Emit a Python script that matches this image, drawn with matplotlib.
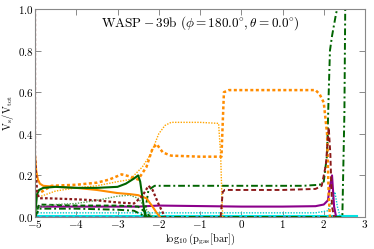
import matplotlib
matplotlib.use("Agg")
import matplotlib.pyplot as plt

plt.rcParams['mathtext.fontset'] = 'cm'
plt.rcParams['font.family'] = 'DejaVu Serif'

# --- data ---
orange_solid_x = [-5.0, -4.97, -4.93, -4.88, -4.8, -4.5, -4.0, -3.5, -3.0, -2.7, -2.5, -2.3, -2.15, -2.05, -1.97]
orange_solid_y = [0.30, 0.22, 0.18, 0.16, 0.15, 0.145, 0.14, 0.13, 0.115, 0.11, 0.105, 0.09, 0.05, 0.02, 0.0]

orange_dot_x = [-4.85, -4.6, -4.0, -3.5, -3.2, -2.9, -2.7, -2.5, -2.3, -2.15, -2.05, -1.9, -1.7, -1.0, -0.48, -0.45, -0.42, -0.3, 1.0, 1.8, 1.9, 2.0, 2.08, 2.12, 2.15]
orange_dot_y = [0.12, 0.15, 0.155, 0.165, 0.18, 0.205, 0.195, 0.18, 0.24, 0.33, 0.35, 0.31, 0.295, 0.29, 0.29, 0.45, 0.60, 0.61, 0.61, 0.61, 0.59, 0.55, 0.40, 0.10, 0.0]

lorange_x = [-4.85, -4.5, -4.0, -3.5, -3.0, -2.7, -2.4, -2.2, -2.0, -1.85, -1.7, -1.0, -0.55, -0.5, -0.47, -0.45]
lorange_y = [0.10, 0.125, 0.14, 0.15, 0.17, 0.18, 0.24, 0.30, 0.40, 0.44, 0.455, 0.455, 0.45, 0.30, 0.10, 0.0]

green_solid_x = [-5.0, -4.95, -4.9, -4.8, -4.5, -4.0, -3.5, -3.0, -2.8, -2.6, -2.5, -2.45, -2.4, -2.35, -2.3]
green_solid_y = [0.0, 0.11, 0.13, 0.14, 0.145, 0.14, 0.14, 0.145, 0.16, 0.185, 0.20, 0.17, 0.10, 0.03, 0.0]

green_dd1_x = [-2.35, -2.25, -2.1, -1.5, 0.0, 1.5, 1.9, 2.0, 2.08, 2.12, 2.15, 2.2, 2.3, 2.33]
green_dd1_y = [0.0, 0.13, 0.15, 0.15, 0.15, 0.15, 0.155, 0.17, 0.30, 0.60, 0.80, 0.87, 0.98, 1.0]

green_dd2_x = [-5.0, -4.9, -4.0, -3.0, -2.6, -2.4, -2.3, 2.45, 2.5, 2.52, 2.55]
green_dd2_y = [0.0, 0.04, 0.04, 0.035, 0.03, 0.01, 0.0, 0.0, 0.5, 1.0, 1.0]

green_dot_x = [-4.9, -4.5, -4.0, -3.5, -3.0, -2.7, -2.5, -2.35, -2.2, -2.1]
green_dot_y = [0.05, 0.06, 0.065, 0.08, 0.10, 0.105, 0.09, 0.05, 0.01, 0.0]

green_dash_x = [-5.0, -4.9, -4.0, -3.0, -2.5, -2.3, -2.2]
green_dash_y = [0.0, 0.06, 0.055, 0.055, 0.05, 0.02, 0.0]

brown_dot_x = [-5.0, -5.0, -4.95, -4.9, -4.7, -4.0, -3.5, -3.0, -2.6, -2.4, -2.25, -2.15, -2.0, -1.85]
brown_dot_y = [1.0, 0.30, 0.12, 0.09, 0.09, 0.085, 0.08, 0.07, 0.065, 0.10, 0.15, 0.13, 0.06, 0.0]

brown_dash_x = [-0.5, -0.45, -0.4, 0.0, 1.0, 1.8, 1.95, 2.05, 2.12, 2.16, 2.2, 2.25]
brown_dash_y = [0.0, 0.12, 0.13, 0.13, 0.13, 0.135, 0.15, 0.25, 0.43, 0.30, 0.05, 0.0]

purple_x = [-5.0, -4.0, -3.0, -2.5, -2.0, 0.0, 1.0, 1.8, 2.0, 2.1, 2.15, 2.2, 2.25, 2.3]
purple_y = [0.05, 0.05, 0.05, 0.05, 0.055, 0.05, 0.05, 0.052, 0.06, 0.08, 0.15, 0.20, 0.05, 0.0]

cyan_dot_x = [-5.0, -3.0, 0.0, 1.8, 2.1, 2.2, 2.27, 2.33, 2.4]
cyan_dot_y = [0.02, 0.02, 0.02, 0.02, 0.03, 0.08, 0.12, 0.05, 0.0]

cyan_solid_x = [-5.0, 0.0, 2.0, 2.3, 2.8]
cyan_solid_y = [0.004, 0.004, 0.004, 0.004, 0.004]

blue_dash_x = [-5.0, 2.4]
blue_dash_y = [0.0, 0.0]

xticks = [-5, -4, -3, -2, -1, 0, 1, 2, 3]
yticks = [0.0, 0.2, 0.4, 0.6, 0.8, 1.0]

fig = plt.figure(figsize=(3.74, 2.49), dpi=100)
ax = fig.add_axes([0.0936, 0.1285, 0.8824, 0.8355])

DD = (3.5, 1.5, 1.0, 1.5)
DA = (2.5, 1.5)
DT = (1.0, 1.0)

ax.plot(cyan_solid_x, cyan_solid_y, color='#00e5e5', lw=1.5, ls='-')
ax.plot(blue_dash_x, blue_dash_y, color='#4682b4', lw=1.2, dashes=DA)
ax.plot(cyan_dot_x, cyan_dot_y, color='#00cccc', lw=1.0, dashes=DT)
ax.plot(purple_x, purple_y, color='#8b008b', lw=1.5, ls='-')
ax.plot(green_dash_x, green_dash_y, color='#006400', lw=1.4, dashes=DA)
ax.plot(green_dot_x, green_dot_y, color='#5aa05a', lw=1.0, dashes=DT)
ax.plot(green_dd2_x, green_dd2_y, color='#006400', lw=1.4, dashes=DD)
ax.plot(green_dd1_x, green_dd1_y, color='#006400', lw=1.4, dashes=DD)
ax.plot(lorange_x, lorange_y, color='#ffa500', lw=1.0, dashes=DT)
ax.plot(orange_solid_x, orange_solid_y, color='#ff8c00', lw=1.5, ls='-')
ax.plot(orange_dot_x, orange_dot_y, color='#ff8c00', lw=1.8, dashes=(1.2, 1.0))
ax.plot(green_solid_x, green_solid_y, color='#006400', lw=1.5, ls='-')
ax.plot(brown_dot_x, brown_dot_y, color='#8b1a1a', lw=1.6, dashes=(1.2, 1.0))
ax.plot(brown_dash_x, brown_dash_y, color='#8b1a1a', lw=1.4, dashes=DA)

ax.set_xlim(-5, 3)
ax.set_ylim(0, 1)
ax.set_xticks(xticks)
ax.set_yticks(yticks)
ax.set_xticklabels([r'$%d$' % t if t >= 0 else r'$-%d$' % abs(t) for t in xticks], fontsize=8)
ax.set_yticklabels([r'$%.1f$' % t for t in yticks], fontsize=8)
ax.tick_params(direction='in', top=True, right=True, length=4, width=0.6, color='#777777', pad=1.0)
for s in ax.spines.values():
    s.set_color('#888888')
    s.set_linewidth(0.8)

ax.set_xlabel(r'$\mathrm{\log_{10}(p_{gas}[bar])}$', fontsize=7.5, labelpad=1)
ax.set_ylabel(r'$\mathrm{V_s/V_{tot}}$', fontsize=7.5, labelpad=1)
ax.text(0.5, 0.93, r'$\mathrm{WASP-39b}\ (\phi=180.0^{\circ},\theta=0.0^{\circ})$',
        transform=ax.transAxes, ha='center', va='center', fontsize=9.5)

fig.savefig('out.png', dpi=100)
